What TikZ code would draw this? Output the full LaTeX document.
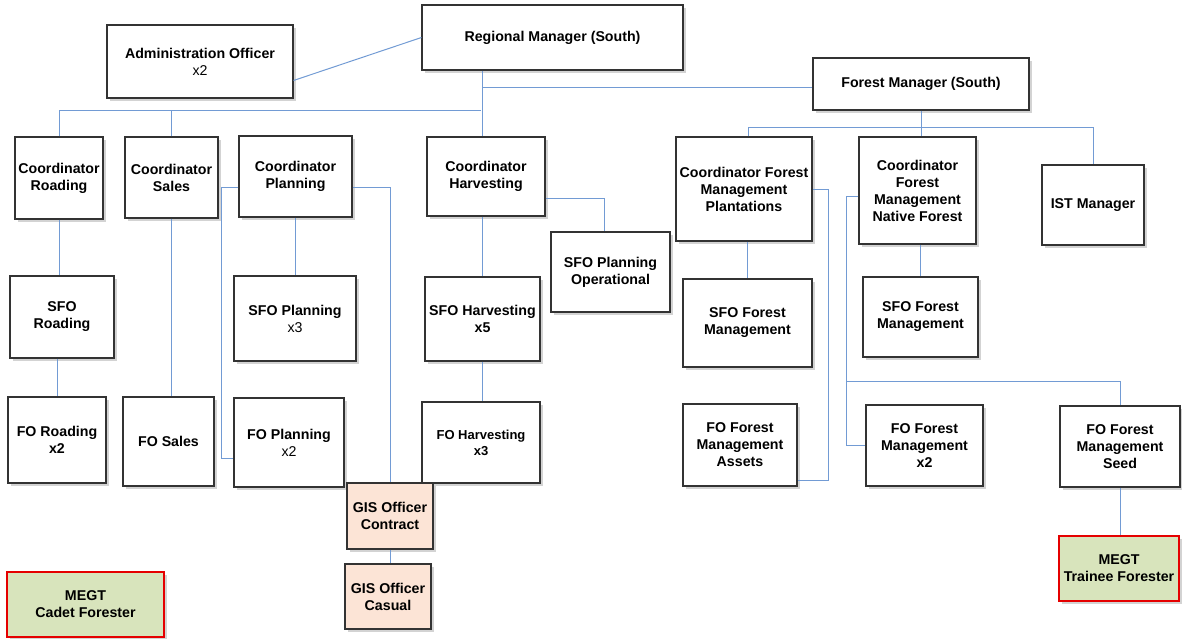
\documentclass[tikz,border=0pt]{standalone}
\usepackage{fontspec}
\setmainfont{Liberation Sans}
\usetikzlibrary{shadows}
\definecolor{linkblue}{RGB}{114,155,212}
\definecolor{gispeach}{RGB}{252,228,214}
\definecolor{megtgreen}{RGB}{216,228,188}

\begin{document}
\begin{tikzpicture}[x=1pt,y=-1pt]
  \tikzstyle{post}=[draw=black!80,line width=1.1pt,fill=white,inner sep=0pt,align=center,
                    font=\fontsize{14.2}{17}\selectfont\bfseries,
                    drop shadow={shadow xshift=3pt,shadow yshift=-3pt,opacity=0.35}]
  \tikzstyle{gis}=[post,fill=gispeach]
  \tikzstyle{megt}=[post,draw=red!90!black,fill=megtgreen]
  \tikzstyle{link}=[draw=linkblue,line width=1pt]
  \useasboundingbox (0,0) rectangle (1182,639);

  % top level
  \node[post,minimum width=261pt,minimum height=65pt] (rm) at (552.5,37.5) {Regional Manager (South)};
  \node[post,minimum width=186pt,minimum height=73pt] (ao) at (200,61.5) {Administration Officer\\{\mdseries x2}};
  \node[post,minimum width=216pt,minimum height=52pt] (fm) at (921,84) {Forest Manager (South)};

  % coordinators
  \node[post,minimum width=88pt,minimum height=82pt] (cr) at (59,178) {Coordinator\\Roading};
  \node[post,minimum width=93pt,minimum height=81pt] (cs) at (171.5,177.5) {Coordinator\\Sales};
  \node[post,minimum width=113pt,minimum height=81pt] (cp) at (295.5,176.5) {Coordinator\\Planning};
  \node[post,minimum width=118pt,minimum height=79pt] (ch) at (486,176.5) {Coordinator\\Harvesting};
  \node[post,minimum width=136pt,minimum height=104pt] (cfp) at (744,189) {Coordinator Forest\\Management\\Plantations};
  \node[post,minimum width=117pt,minimum height=107pt] (cfn) at (917.5,190.5) {Coordinator\\Forest\\Management\\Native Forest};
  \node[post,minimum width=102pt,minimum height=80pt] (ist) at (1093,205) {IST Manager};

  % senior forest officers
  \node[post,minimum width=104pt,minimum height=82pt] (sr) at (62,317) {SFO\\Roading};
  \node[post,minimum width=122pt,minimum height=85pt] (sp) at (295,318.5) {SFO Planning\\{\mdseries x3}};
  \node[post,minimum width=119pt,minimum height=80pt] (spo) at (610.5,272) {SFO Planning\\Operational};
  \node[post,minimum width=115pt,minimum height=84pt] (sh) at (482.5,319) {SFO Harvesting\\x5};
  \node[post,minimum width=129pt,minimum height=88pt] (sfp) at (747.5,323) {SFO Forest\\Management};
  \node[post,minimum width=115pt,minimum height=80pt] (sfn) at (920.5,317) {SFO Forest\\Management};

  % forest officers
  \node[post,minimum width=98pt,minimum height=86pt] (fr) at (57,440) {FO Roading\\x2};
  \node[post,minimum width=91pt,minimum height=89pt] (fs) at (168.5,441.5) {FO Sales};
  \node[post,minimum width=110pt,minimum height=89pt] (fp) at (289,442.5) {FO Planning\\{\mdseries x2}};
  \node[post,minimum width=118pt,minimum height=81pt,font=\fontsize{13}{16}\selectfont\bfseries] (fh) at (481,442.5) {FO Harvesting\\x3};
  \node[post,minimum width=114pt,minimum height=82pt] (fa) at (740,445) {FO Forest\\Management\\Assets};
  \node[post,minimum width=117pt,minimum height=81pt] (ff) at (924.5,445.5) {FO Forest\\Management\\x2};
  \node[post,minimum width=120pt,minimum height=81pt] (fsd) at (1120,446.5) {FO Forest\\Management\\Seed};

  % gis and trainees
  \node[gis,minimum width=86pt,minimum height=66pt] (gc) at (390,516) {GIS Officer\\Contract};
  \node[gis,minimum width=86pt,minimum height=65pt] (gcs) at (388,596.5) {GIS Officer\\Casual};
  \node[megt,minimum width=157pt,minimum height=65pt] (mc) at (85.5,604.5) {MEGT\\Cadet Forester};
  \node[megt,minimum width=120pt,minimum height=65pt] (mt) at (1119,568.5) {MEGT\\Trainee Forester};

  \coordinate (lb) at (481,111);
  \coordinate (fb) at (921,127.5);
  \coordinate (nb) at (847,381);

  \draw[link] ([yshift=-19pt]ao.east) -- (rm.west);
  \draw[link] (sh.north |- rm.south) -- (sh.north |- ch.north);
  \draw[link] (cr.north) |- (lb);
  \draw[link] (cs.north) -- (cs.north |- lb);
  \draw[link] (sh.north |- fm.west) ++(0,4) -- ([yshift=-4pt]fm.west);
  \draw[link] (fm.south) -- (fb);
  \draw[link] ([xshift=4pt]cfp.north) |- (fb) -| (ist.north);
  \draw[link] (fb) -- (fb |- cfn.north);

  \draw[link] (cr.south) -- (cr.south |- sr.north);
  \draw[link] (fr.north |- sr.south) -- (fr.north);
  \draw[link] (cs.south) -- (cs.south |- fs.north);
  \draw[link] (cp.south) -- (cp.south |- sp.north);
  \draw[link] ([yshift=-10.5pt]cp.west) -- ++(-17,0) |- ([yshift=-16pt]fp.west);
  \draw[link] ([yshift=-10.5pt]cp.east) -| (gc.north);
  \draw[link] (gc.south) -- (gc.south |- gcs.north);
  \draw[link] (sh.north |- ch.south) -- (sh.north);
  \draw[link] (sh.south) -- (sh.south |- fh.north);
  \draw[link] ([yshift=-22pt]ch.east) -| ([xshift=-6pt]spo.north);
  \draw[link] (sfp.north |- cfp.south) -- (sfp.north);
  \draw[link] (cfp.east) -- ++(16,0) |- ([yshift=-35pt]fa.east);
  \draw[link] (sfn.north |- cfn.south) -- (sfn.north);
  \draw[link] ([yshift=-5.5pt]cfn.west) -- ++(-12,0) |- (ff.west);
  \draw[link] (nb) -| (fsd.north);
  \draw[link] (fsd.south) -- (fsd.south |- mt.north);
\end{tikzpicture}
\end{document}
